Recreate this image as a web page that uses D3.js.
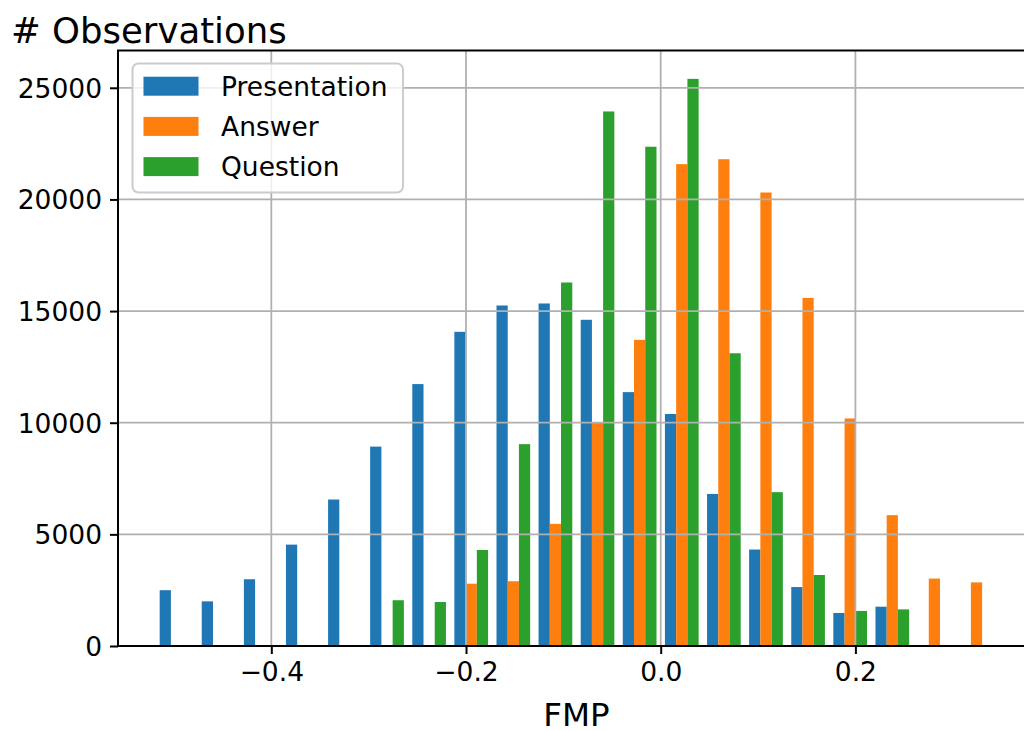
<!DOCTYPE html>
<html>
<head>
<meta charset="utf-8">
<script src="https://cdn.jsdelivr.net/npm/d3@7"></script>
<style>
  html, body { margin: 0; padding: 0; background: #fff; }
  svg { display: block; font-family: "DejaVu Sans", sans-serif; }
</style>
</head>
<body>
<div id="chart"></div>
<script>
// histogram bin edges (FMP)
const binEdges = [-0.5190, -0.4758, -0.4325, -0.3893, -0.3460, -0.3028, -0.2595,
  -0.2163, -0.1730, -0.1298, -0.0865, -0.0433, 0.0000, 0.0433, 0.0865, 0.1298,
  0.1730, 0.2163, 0.2595, 0.3028, 0.3460];

const seriesNames = ["Presentation", "Answer", "Question"];
const seriesColors = ["#1f77b4", "#ff7f0e", "#2ca02c"];

// counts per bin
const presentation = [2500, 2000, 2990, 4540, 6560, 8930, 11730, 14070, 15250, 15340,
  14610, 11370, 10390, 6810, 4320, 2640, 1480, 1760, 0, 0];
const answer = [0, 0, 0, 0, 0, 0, 0, 2790, 2900, 5470,
  10000, 13710, 21580, 21800, 20310, 15590, 10190, 5860, 3020, 2850];
const question = [0, 0, 0, 0, 0, 2050, 1970, 4300, 9040, 16280,
  23940, 22360, 25400, 13110, 6890, 3180, 1570, 1640, 0, 0];

const xTicks = [-0.4, -0.2, 0.0, 0.2];
const yTicks = [0, 5000, 10000, 15000, 20000, 25000];

const width = 1024;
const height = 731;
const plot = {left: 118, right: 1035, top: 50.5, bottom: 646};

const series = [presentation, answer, question];
const nx = series.length;
const rwidth = 0.8;

// bar layout like matplotlib's grouped hist
const bars = [];
series.forEach((vals, s) => {
  vals.forEach((v, i) => {
    const lo = binEdges[i], hi = binEdges[i + 1];
    const bw = hi - lo;
    const w = rwidth * bw / nx;
    const x0 = lo + 0.5 * bw - 0.5 * rwidth * bw + s * w;
    bars.push({s, x0, x1: x0 + w, v});
  });
});

const dataMin = d3.min(bars, d => d.x0);
const dataMax = d3.max(bars, d => d.x1);
const pad = (dataMax - dataMin) * 0.05;
const yMax = d3.max(series.flat()) * 1.05;

const x = d3.scaleLinear().domain([dataMin - pad, dataMax + pad]).range([plot.left, plot.right]);
const y = d3.scaleLinear().domain([0, yMax]).range([plot.bottom, plot.top]);

const svg = d3.select("#chart")
  .append("svg")
  .attr("width", width)
  .attr("height", height)
  .attr("viewBox", `0 0 ${width} ${height}`);

svg.append("rect").attr("width", width).attr("height", height).attr("fill", "#fff");

// bars
svg.append("g").attr("class", "bars")
  .selectAll("rect").data(bars.filter(d => d.v > 0)).enter()
  .append("rect")
  .attr("x", d => x(d.x0))
  .attr("width", d => x(d.x1) - x(d.x0))
  .attr("y", d => y(d.v))
  .attr("height", d => y(0) - y(d.v))
  .attr("fill", d => seriesColors[d.s]);

// grid above bars
const grid = svg.append("g").attr("class", "grid")
  .attr("stroke", "#b0b0b0").attr("stroke-width", 1.8);
grid.selectAll("line.gx").data(xTicks).enter()
  .append("line").attr("class", "gx")
  .attr("x1", d => x(d)).attr("x2", d => x(d))
  .attr("y1", plot.top).attr("y2", plot.bottom);
grid.selectAll("line.gy").data(yTicks).enter()
  .append("line").attr("class", "gy")
  .attr("x1", plot.left).attr("x2", plot.right)
  .attr("y1", d => y(d)).attr("y2", d => y(d));

// axes
const fmt = d => d3.format(".1f")(d).replace("-", "\u2212");
const xAxis = svg.append("g")
  .attr("transform", `translate(0,${plot.bottom})`)
  .call(d3.axisBottom(x).tickValues(xTicks).tickFormat(fmt).tickSize(8).tickPadding(7));
const yAxis = svg.append("g")
  .attr("transform", `translate(${plot.left},0)`)
  .call(d3.axisLeft(y).tickValues(yTicks).tickFormat(d3.format("d")).tickSize(8).tickPadding(8));

[xAxis, yAxis].forEach(a => {
  a.select(".domain").remove();
  a.selectAll(".tick line").attr("stroke", "#000").attr("stroke-width", 2);
  a.selectAll(".tick text")
    .attr("fill", "#000")
    .style("font-family", "DejaVu Sans")
    .style("font-size", "26.5px");
});
yAxis.selectAll(".tick text").attr("dy", "0.36em");
xAxis.selectAll(".tick text").attr("dy", "0.76em");

// spines
svg.append("rect")
  .attr("x", plot.left).attr("y", plot.top)
  .attr("width", plot.right - plot.left).attr("height", plot.bottom - plot.top)
  .attr("fill", "none").attr("stroke", "#000").attr("stroke-width", 2);

// labels
svg.append("text")
  .attr("x", 11).attr("y", 43)
  .style("font-size", "35.5px")
  .text("# Observations");

svg.append("text")
  .attr("x", (plot.left + plot.right) / 2).attr("y", 726)
  .attr("text-anchor", "middle")
  .style("font-size", "32.5px")
  .text("FMP");

// legend
const legend = svg.append("g").attr("class", "legend");
legend.append("rect")
  .attr("x", 132.5).attr("y", 63.5).attr("width", 270.5).attr("height", 129)
  .attr("rx", 6)
  .attr("fill", "#fff").attr("fill-opacity", 0.8)
  .attr("stroke", "#cccccc").attr("stroke-width", 2);

const items = legend.selectAll("g.item").data(seriesNames).enter()
  .append("g").attr("class", "item")
  .attr("transform", (d, i) => `translate(0,${86.2 + i * 40.2})`);
items.append("rect")
  .attr("x", 143.5).attr("y", -9.5).attr("width", 55).attr("height", 19)
  .attr("fill", (d, i) => seriesColors[i]);
items.append("text")
  .attr("x", 221).attr("dy", "0.36em")
  .style("font-size", "26.5px")
  .text(d => d);
</script>
</body>
</html>
